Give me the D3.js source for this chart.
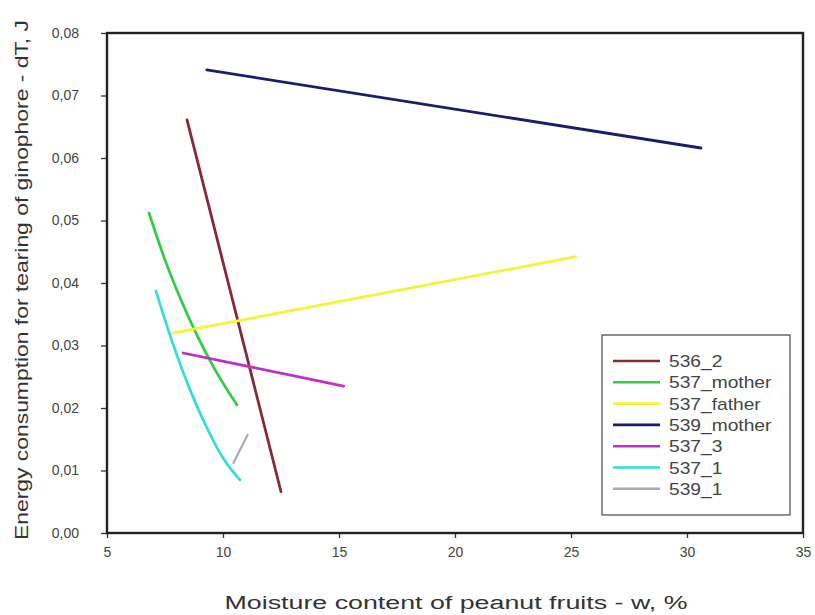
<!DOCTYPE html>
<html><head><meta charset="utf-8">
<script src="https://cdn.jsdelivr.net/npm/d3@7"></script>
<style>body{margin:0;background:#fff;} text{font-family:"Liberation Sans",Arial,sans-serif;}</style>
</head><body><svg id="c" width="815" height="615"></svg>
<script>
const seriesNames = ["536_2","537_mother","537_father","539_mother","537_3","537_1","539_1"];
const seriesColors = ["#862a38","#33cc44","#f4f43a","#1c1c6a","#c030c8","#33dddd","#aaaaaa"];
const s536_2 = [[8.45,0.0661],[12.5,0.0066]];
const s537_mother = [[6.81,0.0512],[7.5,0.0437],[8.2,0.0372],[8.9,0.0315],[9.6,0.0265],[10.6,0.0205]];
const s537_father = [[7.86,0.0320],[25.2,0.0442]];
const s539_mother = [[9.3,0.0741],[30.6,0.0616]];
const s537_3 = [[8.28,0.0288],[15.2,0.0235]];
const s537_1 = [[7.11,0.0387],[7.84,0.0303],[8.58,0.0229],[9.31,0.0168],[10.0,0.0120],[10.73,0.0085]];
const s539_1 = [[10.45,0.0112],[11.06,0.0157]];
const seriesData = [s536_2,s537_mother,s537_father,s539_mother,s537_3,s537_1,s539_1];
const xTicks = [5,10,15,20,25,30,35];
const yTicks = [0,0.01,0.02,0.03,0.04,0.05,0.06,0.07,0.08];

const svg = d3.select("#c");
const L=107,T=33,W=696,H=500;
const x = d3.scaleLinear().domain([5,35]).range([L,L+W]);
const y = d3.scaleLinear().domain([0,0.08]).range([T+H,T]);
const fmt = d => d3.format(".2f")(d).replace(".",",");

const xa = svg.append("g").attr("transform",`translate(0,${T+H})`)
  .call(d3.axisBottom(x).tickValues(xTicks).tickSize(5).tickPadding(9).tickFormat(d3.format("d")));
const ya = svg.append("g").attr("transform",`translate(${L},0)`)
  .call(d3.axisLeft(y).tickValues(yTicks).tickSize(6).tickPadding(22).tickFormat(fmt));
[xa,ya].forEach(a=>{a.select(".domain").remove();a.selectAll("line").attr("stroke","#333").attr("stroke-width",1.3);
  a.selectAll("text").attr("fill","#444").style("font-size","14px");});

const line = d3.line().x(d=>x(d[0])).y(d=>y(d[1])).curve(d3.curveMonotoneX);
seriesData.forEach((s,i)=>{
  svg.append("path").datum(s).attr("d",line).attr("fill","none")
    .attr("stroke",seriesColors[i]).attr("stroke-width",i===6?2.2:2.8).attr("stroke-linecap","round");
});

svg.append("rect").attr("x",L).attr("y",T).attr("width",W).attr("height",H)
  .attr("fill","none").attr("stroke","#222").attr("stroke-width",2.4);

// legend
const lg = svg.append("g");
lg.append("rect").attr("x",602).attr("y",335).attr("width",188).attr("height",180)
  .attr("fill","#fff").attr("stroke","#555").attr("stroke-width",1.3);
seriesNames.forEach((n,i)=>{
  const yy = 361 + i*21.3;
  lg.append("line").attr("x1",613).attr("x2",660).attr("y1",yy).attr("y2",yy)
    .attr("stroke",seriesColors[i]).attr("stroke-width",2.6);
  lg.append("text").attr("transform",`translate(669,${yy+6}) scale(1.2,1)`).text(n)
    .attr("fill","#444").style("font-size","16px");
});

svg.append("text").attr("x",456).attr("y",609).attr("text-anchor","middle")
  .attr("textLength",463).attr("lengthAdjust","spacingAndGlyphs")
  .attr("fill","#333").style("font-size","18px").text("Moisture content of peanut fruits - w, %");
svg.append("text").attr("transform","translate(28,280) rotate(-90)").attr("text-anchor","middle")
  .attr("fill","#333").style("font-size","18px").text("Energy consumption for tearing of ginophore - dT, J")
  .attr("x",0).attr("textLength",520).attr("lengthAdjust","spacingAndGlyphs");
</script></body></html>
